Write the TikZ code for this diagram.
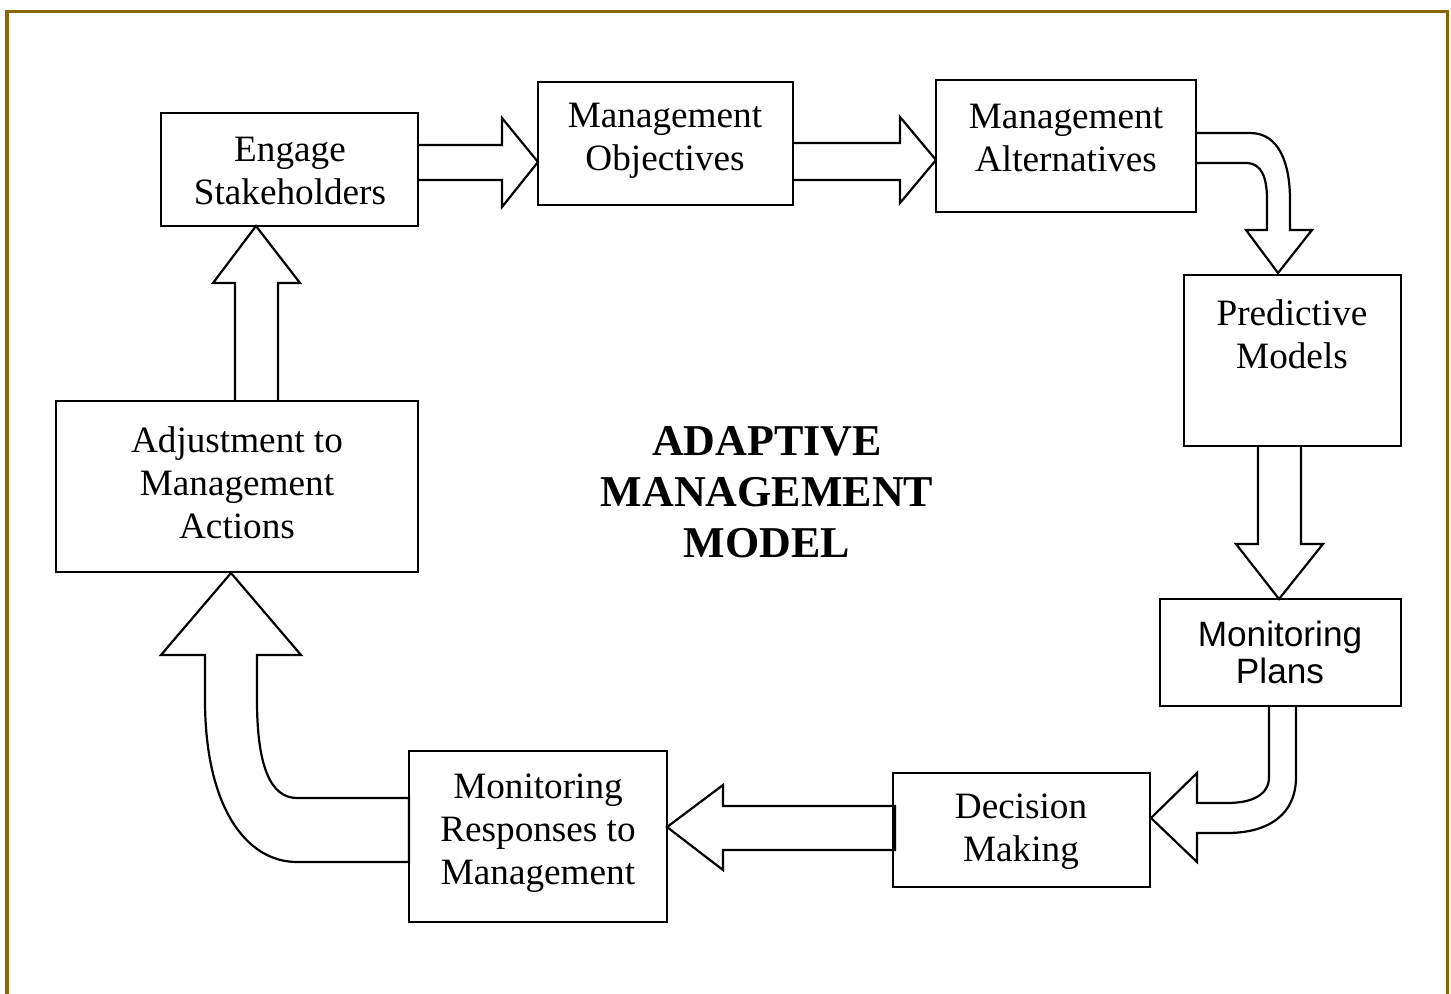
\documentclass[tikz,border=0pt]{standalone}
\usepackage{fontspec}
\setmainfont{Liberation Serif}
\newfontfamily\arialfont{Liberation Sans}
\definecolor{frame}{RGB}{139,101,8}
\begin{document}
\begin{tikzpicture}[x=0.5pt,y=-0.5pt,
  box/.style={draw,line width=1.1pt,minimum width=#1,inner sep=0pt},
  txt/.style={align=center,inner sep=0pt,font=\fontsize{18.6}{21.5}\selectfont},
  sanstxt/.style={align=center,inner sep=0pt,font=\arialfont\fontsize{17.6}{18.5}\selectfont},
  blk/.style={draw,fill=white,line width=1.1pt,line join=miter}]
\useasboundingbox (0,0) rectangle (1451,994);
\fill[white] (0,0) rectangle (1451,994);
\draw[frame,line width=1.6pt] (7,996) -- (7,11.5) -- (1447.5,11.5) -- (1447.5,996);

% block arrows
% engage -> objectives
\draw[blk] (418,145) -- (502,145) -- (502,118) -- (538,162) -- (502,207) -- (502,180) -- (418,180);
% objectives -> alternatives
\draw[blk] (793,143) -- (900,143) -- (900,117) -- (936,160) -- (900,203) -- (900,180) -- (793,180);
% alternatives -> predictive
\draw[blk] (1196,133) -- (1250,133) .. controls (1280,133) and (1290,165) .. (1290,200) -- (1290,230)
  -- (1312,230) -- (1278,273) -- (1246,230) -- (1267,230) -- (1267,200)
  .. controls (1267,178) and (1262,163) .. (1246,163) -- (1196,163);
% predictive -> monitoring plans
\draw[blk] (1258,446) -- (1258,544) -- (1236,544) -- (1279,599) -- (1323,544) -- (1301,544) -- (1301,446);
% monitoring plans -> decision
\draw[blk] (1269,706) -- (1269,777) .. controls (1269,795) and (1252,803) .. (1227,803) -- (1197,803)
  -- (1197,773) -- (1151,818) -- (1197,862) -- (1197,833) -- (1227,833)
  .. controls (1268,833) and (1296,815) .. (1296,777) -- (1296,706);
% decision -> monitoring responses
\draw[blk] (895,806) -- (723,806) -- (723,785) -- (667,827) -- (723,870) -- (723,850) -- (895,850) -- cycle;
% monitoring responses -> adjustment
\draw[blk] (409,798) -- (297,798) .. controls (270,798) and (257,765) .. (257,700) -- (257,655)
  -- (301,655) -- (231,573) -- (161,655) -- (205,655) -- (205,700)
  .. controls (205,805) and (245,862) .. (297,862) -- (409,862) -- cycle;
% adjustment -> engage
\draw[blk] (235,401) -- (235,283) -- (213,283) -- (256,226) -- (300,283) -- (278,283) -- (278,401);

% boxes
\node[box=128.5pt,minimum height=56.5pt] (eng) at (289.5,169.5) {};
\node[box=127.5pt,minimum height=61.5pt] (obj) at (665.5,143.5) {};
\node[box=130pt,minimum height=66pt] (alt) at (1066,146) {};
\node[box=108.5pt,minimum height=85.5pt] (pm) at (1292.5,360.5) {};
\node[box=120.5pt,minimum height=53.5pt] (mp) at (1280.5,652.5) {};
\node[box=128.5pt,minimum height=57pt] (dm) at (1021.5,830) {};
\node[box=129pt,minimum height=85.5pt] (mr) at (538,836.5) {};
\node[box=181pt,minimum height=85.5pt] (adj) at (237,486.5) {};

% texts
\node[txt] (engt) at (290,171) {Engage\\Stakeholders};
\node[txt] (objt) at (665,141) {Management\\Objectives};
\node[txt] (altt) at (1066,138) {Management\\Alternatives};
\node[txt] (pmt) at (1292,334) {Predictive\\Models};
\node[sanstxt] (mpt) at (1280,652) {Monitoring\\Plans};
\node[txt] (dmt) at (1021,832) {Decision\\Making};
\node[txt] (mrt) at (538,833) {Monitoring\\Responses to\\Management};
\node[txt] (adjt) at (237,483) {Adjustment to\\Management\\Actions};
\node[align=center,inner sep=0pt,font=\fontsize{22}{25.5}\selectfont\bfseries] (title) at (767,492) {ADAPTIVE\\MANAGEMENT\\MODEL};
\end{tikzpicture}
\end{document}
